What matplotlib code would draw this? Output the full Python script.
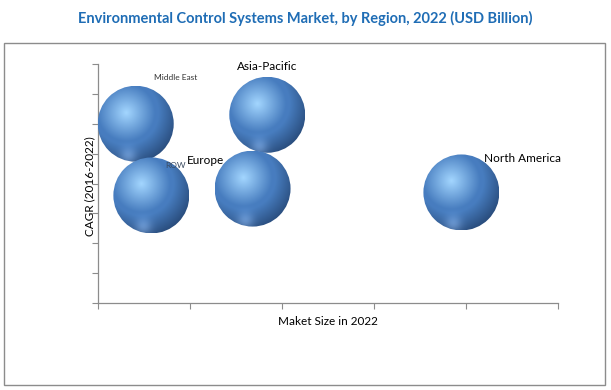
import numpy as np
import matplotlib
matplotlib.use("Agg")
from matplotlib import pyplot as plt
from matplotlib.patches import Ellipse, Rectangle

# data (arbitrary units)
regions = ['Middle East', 'RoW', 'Asia-Pacific', 'Europe', 'North America']
market_size = [0.41, 0.58, 1.84, 1.68, 3.95]
cagr = [6.0, 3.6, 6.3, 3.83, 3.7]

fig = plt.figure(figsize=(6.11, 3.90), dpi=100)
fig.patch.set_facecolor('white')

# outer frame
fig.add_artist(Rectangle((4/611, 5/390), 601/611, 342/390, transform=fig.transFigure,
                         fill=False, edgecolor='#8c8c8c', linewidth=1.0))

fig.text(0.5, 1 - 18/390, 'Environmental Control Systems Market, by Region, 2022 (USD Billion)',
         ha='center', va='center', fontsize=10.5, fontweight='bold', color='#1f6db5',
         family='Lato')

ax = fig.add_axes([98/611, 87/390, 460/611, 239/390])
ax.set_xlim(0, 5)
ax.set_ylim(0, 8)
ax.set_xticks(np.arange(0, 6))
ax.set_yticks(np.arange(0, 9))
ax.set_xticklabels([])
ax.set_yticklabels([])
ax.tick_params(length=4, color='#8c8c8c', width=0.8)
for s in ['top', 'right']:
    ax.spines[s].set_visible(False)
for s in ['left', 'bottom']:
    ax.spines[s].set_color('#8c8c8c')
    ax.spines[s].set_linewidth(0.9)

ax.set_xlabel('Maket Size in 2022', fontsize=8.5, labelpad=2, family='Lato')
ax.set_ylabel('CAGR (2016-2022)', fontsize=8.5, family='Lato', va='center')
ax.yaxis.set_label_coords(-8/460, 0.49)

# sphere shading image
n = 200
u, v = np.meshgrid(np.linspace(-1, 1, n), np.linspace(1, -1, n))
d = np.sqrt((u + 0.25)**2 + (v - 0.3)**2)
hi = np.array([0.64, 0.84, 1.0])
mid = np.array([0.28, 0.49, 0.75])
dark = np.array([0.13, 0.25, 0.42])
t = np.clip(d / 0.75, 0, 1)[..., None]
col = hi * (1 - t) + mid * t
t2 = np.clip((d - 0.85) / 0.7, 0, 1)[..., None]
col = col * (1 - t2) + dark * t2
# faint lower rim reflection
refl = np.exp(-((u + 0.2)**2 + (v + 0.85)**2) / 0.05)[..., None] * 0.18
col = np.clip(col + refl, 0, 1)
img = np.dstack([col, np.ones((n, n))])

px_x = 460 / 5
px_y = 239 / 8
rad = 38
w = 2 * rad / px_x
h = 2 * rad / px_y
for x, y in zip(market_size, cagr):
    e = Ellipse((x, y), w, h, facecolor='none', edgecolor='none')
    ax.add_patch(e)
    im = ax.imshow(img, extent=[x - w/2, x + w/2, y - h/2, y + h/2],
                   interpolation='bilinear', zorder=3, aspect='auto')
    im.set_clip_path(e)
ax.set_xlim(0, 5)
ax.set_ylim(0, 8)

def px(xp, yp):
    return ((xp - 98) / px_x, (303 - yp) / px_y)

lbl = {
    'Middle East': ((176, 77), 6, '#333333'),
    'RoW': ((175, 166), 6, '#3a4a60'),
    'Asia-Pacific': ((267, 66), 8.5, 'black'),
    'Europe': ((205, 160), 8.5, 'black'),
    'North America': ((523, 158), 8.5, 'black'),
}
for name in regions:
    (xp, yp), fs, c = lbl[name]
    text = 'ROW' if name == 'RoW' else name
    ax.text(*px(xp, yp), text, ha='center', va='center', fontsize=fs, color=c,
            family='Lato', zorder=5)

plt.savefig('out.png', dpi=100)
